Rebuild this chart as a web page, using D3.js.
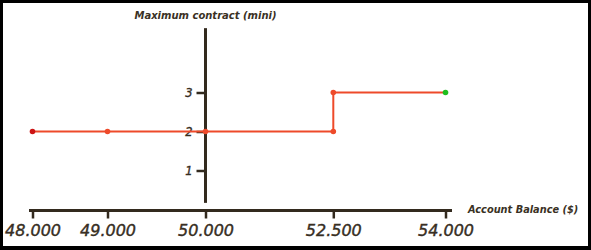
<!DOCTYPE html>
<html>
<head>
<meta charset="utf-8">
<script src="https://cdn.jsdelivr.net/npm/d3@7"></script>
<style>
  html, body { margin: 0; padding: 0; background: #000; }
  svg { display: block; }
  text { font-family: "DejaVu Sans", sans-serif; font-style: oblique; fill: #3a3124; }
</style>
</head>
<body>
<svg id="chart" width="591" height="250"></svg>
<script>
// ---- data ----
const balances = [48000, 49000, 50000, 52500, 52500, 54000];
const contracts = [2, 2, 2, 2, 3, 3];
const pointColors = ["#cc1414", "#ee4a2a", "#ee4a2a", "#ee4a2a", "#ee4a2a", "#1fbf1f"];
const xTickValues = [48000, 49000, 50000, 52500, 54000];
const xTickLabels = ["48.000", "49.000", "50.000", "52.500", "54.000"];
const yTickValues = [1, 2, 3];
const yTitle = "Maximum contract (mini)";
const xTitle = "Account Balance ($)";

// ---- layout ----
const W = 591, H = 250;
const ink = "#332a1e";
const svg = d3.select("#chart");

svg.append("rect").attr("x", 3).attr("y", 3).attr("width", W - 6).attr("height", H - 7).attr("fill", "#fff");

const x = d3.scaleLinear()
  .domain(xTickValues)
  .range([32.5, 107.5, 205.5, 333.3, 445.5]);
const y = d3.scaleLinear().domain([0, 3]).range([209.5, 92.5]);

const axisY = 210.5;
const axisX = x(50000);

function styleText(sel, size, stroke) {
  sel.attr("font-size", size).attr("fill", ink).attr("font-family", null)
    .style("font-family", "'DejaVu Sans', sans-serif").style("font-style", "oblique")
    .attr("stroke", stroke ? ink : null).attr("stroke-width", stroke || null);
  return sel;
}

// x axis
const gx = svg.append("g").attr("transform", `translate(0,${axisY})`)
  .call(d3.axisBottom(x).tickValues(xTickValues).tickFormat((d, i) => xTickLabels[i]).tickSize(8).tickPadding(6).tickSizeOuter(0));
gx.select(".domain").remove();
gx.insert("line", ":first-child").attr("x1", 29).attr("x2", 452).attr("y1", 0).attr("y2", 0)
  .attr("stroke", ink).attr("stroke-width", 3);
gx.selectAll(".tick line").attr("stroke", ink).attr("stroke-width", 2.5);
styleText(gx.selectAll(".tick text"), 16, 0.4);

// y axis
const gy = svg.append("g").attr("transform", `translate(${axisX},0)`)
  .call(d3.axisLeft(y).tickValues(yTickValues).tickFormat(d3.format("d")).tickSize(9).tickPadding(4).tickSizeOuter(0));
gy.select(".domain").remove();
gy.insert("line", ":first-child").attr("x1", 0).attr("x2", 0).attr("y1", y(4.65)).attr("y2", y(0.17))
  .attr("stroke", ink).attr("stroke-width", 3);
gy.selectAll(".tick line").attr("stroke", ink).attr("stroke-width", 2.5);
styleText(gy.selectAll(".tick text"), 11.5, 0.35);

// titles
styleText(svg.append("text").attr("x", axisX).attr("y", 18.5).attr("text-anchor", "middle").text(yTitle), 10, 0)
  .style("font-weight", "bold");
styleText(svg.append("text").attr("x", 468).attr("y", 212.5).attr("text-anchor", "start").text(xTitle), 9.8, 0)
  .style("font-weight", "bold");

// line
const pts = balances.map((b, i) => ({ b, c: contracts[i], col: pointColors[i] }));
svg.append("path").datum(pts)
  .attr("fill", "none").attr("stroke", "#ee4a2a").attr("stroke-width", 2)
  .attr("d", d3.line().x(d => x(d.b)).y(d => y(d.c)));
svg.selectAll("circle.pt").data(pts).join("circle").attr("class", "pt")
  .attr("cx", d => x(d.b)).attr("cy", d => y(d.c)).attr("r", 2.8).attr("fill", d => d.col);
</script>
</body>
</html>
